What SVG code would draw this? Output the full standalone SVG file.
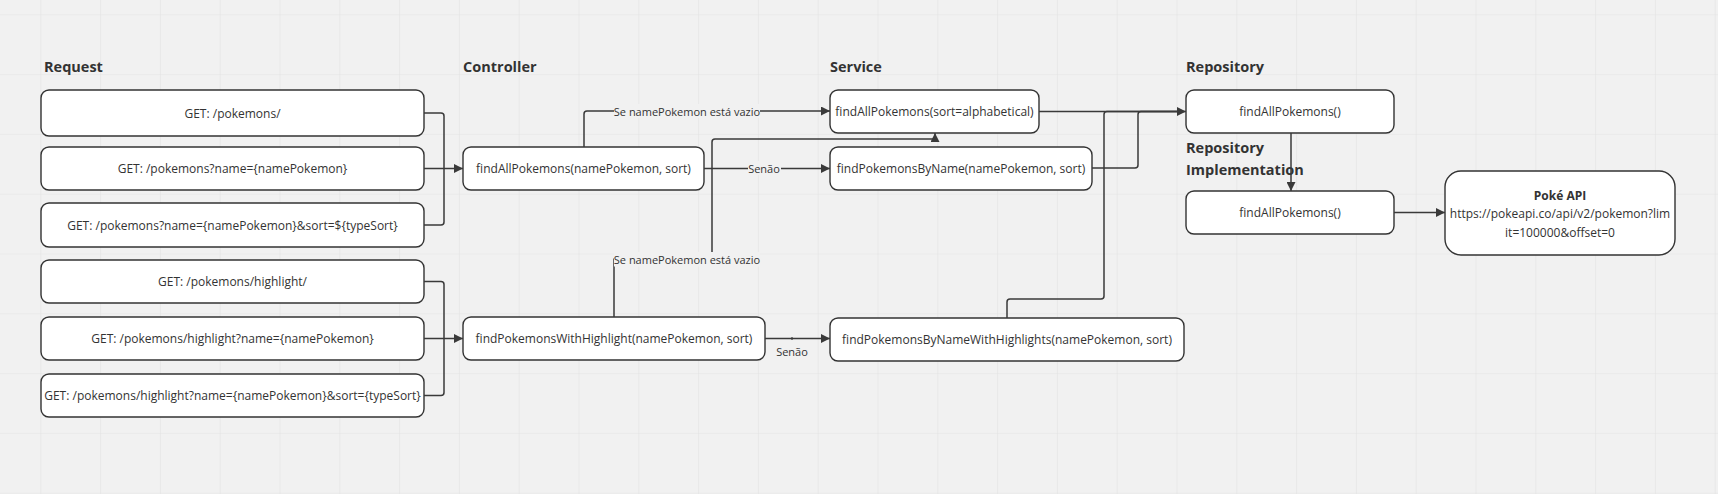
<svg xmlns="http://www.w3.org/2000/svg" width="1718" height="494" viewBox="0 0 1718 494">
<defs>
<style>
.bg{fill:#f1f1f1}
.box{fill:#ffffff;stroke:#333333;stroke-width:1.4}
.t{font-family:"Open Sans","Noto Sans",sans-serif;font-size:12px;fill:#333333;text-anchor:middle;dominant-baseline:central}
.h{font-family:"Open Sans","Noto Sans",sans-serif;font-size:14.5px;font-weight:bold;fill:#333333}
.b{font-weight:bold}
.c{fill:none;stroke:#3a3a3a;stroke-width:1.5;stroke-linejoin:round}
.ca{fill:none;stroke:#3a3a3a;stroke-width:1.5;stroke-linejoin:round;marker-end:url(#arr)}
.lbl{font-family:"Open Sans","Noto Sans",sans-serif;font-size:11px;fill:#333333;text-anchor:middle;dominant-baseline:central}
.lbg{fill:#f1f1f1}
</style>
<marker id="arr" viewBox="0 0 10 10" refX="10" refY="5" markerWidth="9" markerHeight="9" markerUnits="userSpaceOnUse" orient="auto">
<path d="M0,0 L10,5 L0,10 z" fill="#3a3a3a"/>
</marker>
<pattern id="grid" patternUnits="userSpaceOnUse" x="40.3" y="14.3" width="59.8" height="59.8">
<path d="M0,0 H59.8 M0,0 V59.8" stroke="#e3e3e3" stroke-width="1.2" fill="none"/>
</pattern>
</defs>
<rect class="bg" x="0" y="0" width="1718" height="494"/>
<rect x="0" y="0" width="1718" height="494" fill="url(#grid)"/>

<g id="titles">
<text class="h" x="44" y="72">Request</text>
<text class="h" x="463" y="72">Controller</text>
<text class="h" x="830" y="72">Service</text>
<text class="h" x="1186" y="72">Repository</text>
<text class="h" x="1186" y="153">Repository</text>
<text class="h" x="1186" y="175">Implementation</text>
</g>

<g id="req1"><rect class="box" x="41" y="90" width="383" height="46" rx="8"/><text class="t" x="232.5" y="113">GET: /pokemons/</text></g>
<g id="req2"><rect class="box" x="41" y="147" width="383" height="43" rx="8"/><text class="t" x="232.5" y="168.5">GET: /pokemons?name={namePokemon}</text></g>
<g id="req3"><rect class="box" x="41" y="203" width="383" height="44" rx="8"/><text class="t" x="232.5" y="225">GET: /pokemons?name={namePokemon}&amp;sort=${typeSort}</text></g>
<g id="req4"><rect class="box" x="41" y="260" width="383" height="43" rx="8"/><text class="t" x="232.5" y="281.5">GET: /pokemons/highlight/</text></g>
<g id="req5"><rect class="box" x="41" y="317" width="383" height="43" rx="8"/><text class="t" x="232.5" y="338.5">GET: /pokemons/highlight?name={namePokemon}</text></g>
<g id="req6"><rect class="box" x="41" y="374" width="383" height="43" rx="8"/><text class="t" x="232.5" y="395.5">GET: /pokemons/highlight?name={namePokemon}&amp;sort={typeSort}</text></g>

<g id="ctrl1"><rect class="box" x="463" y="147" width="241" height="43" rx="8"/><text class="t" x="583.5" y="168.5">findAllPokemons(namePokemon, sort)</text></g>
<g id="ctrl2"><rect class="box" x="463" y="317" width="302" height="43" rx="8"/><text class="t" x="614" y="338.5">findPokemonsWithHighlight(namePokemon, sort)</text></g>

<g id="svc1"><rect class="box" x="830" y="90" width="209" height="43" rx="8"/><text class="t" x="934.5" y="111.5">findAllPokemons(sort=alphabetical)</text></g>
<g id="svc2"><rect class="box" x="830" y="147" width="262" height="43" rx="8"/><text class="t" x="961" y="168.5">findPokemonsByName(namePokemon, sort)</text></g>
<g id="svc3"><rect class="box" x="830" y="318" width="354" height="43" rx="8"/><text class="t" x="1007" y="339.5">findPokemonsByNameWithHighlights(namePokemon, sort)</text></g>

<g id="repo"><rect class="box" x="1186" y="90" width="208" height="43" rx="8"/><text class="t" x="1290" y="111.5">findAllPokemons()</text></g>
<g id="repoimpl"><rect class="box" x="1186" y="191" width="208" height="43" rx="8"/><text class="t" x="1290" y="212.5">findAllPokemons()</text></g>
<g id="pokeapi"><rect class="box" x="1445" y="171" width="230" height="84" rx="16"/>
<text class="t b" x="1560" y="195">Poké API</text>
<text class="t" x="1560" y="213.5">https://pokeapi.co/api/v2/pokemon?lim</text>
<text class="t" x="1560" y="232">it=100000&amp;offset=0</text>
</g>

<g id="connectors">
<path class="c" d="M424,113 H441 Q444,113 444,116 V168.5"/>
<path class="c" d="M424,225 H441 Q444,225 444,222 V168.5"/>
<path class="ca" d="M424,168.5 H463"/>
<path class="c" d="M424,281.5 H441 Q444,281.5 444,284.5 V338.5"/>
<path class="c" d="M424,395.5 H441 Q444,395.5 444,392.5 V338.5"/>
<path class="ca" d="M424,338.5 H463"/>

<path class="ca" d="M584,147 V114 Q584,111 587,111 H830"/>
<rect class="lbg" x="614" y="104" width="146" height="14"/>
<text class="lbl" x="687" y="111">Se namePokemon está vazio</text>

<path class="ca" d="M704,168.5 H830"/>
<rect class="lbg" x="748" y="161" width="33" height="14"/>
<text class="lbl" x="764" y="168.5">Senão</text>

<path class="ca" d="M614,317 V259 H712 V142 Q712,139 715,139 H935 V133"/>
<rect class="lbg" x="614" y="252" width="146" height="14.5"/>
<text class="lbl" x="687" y="259">Se namePokemon está vazio</text>

<path class="ca" d="M765,338.5 H830"/>
<circle cx="792" cy="338.5" r="1.2" fill="#3a3a3a"/>
<text class="lbl" x="792" y="351">Senão</text>

<path class="ca" d="M1039,111.5 H1186"/>
<path class="c" d="M1092,168 H1135 Q1138,168 1138,165 V114.5 Q1138,111.5 1141,111.5 H1180"/>
<path class="c" d="M1007,318 V302 Q1007,299 1010,299 H1101 Q1104,299 1104,296 V114.5 Q1104,111.5 1107,111.5 H1180"/>

<path class="ca" d="M1291,133 V191"/>
<path class="ca" d="M1394,212.5 H1445"/>
</g>
</svg>
